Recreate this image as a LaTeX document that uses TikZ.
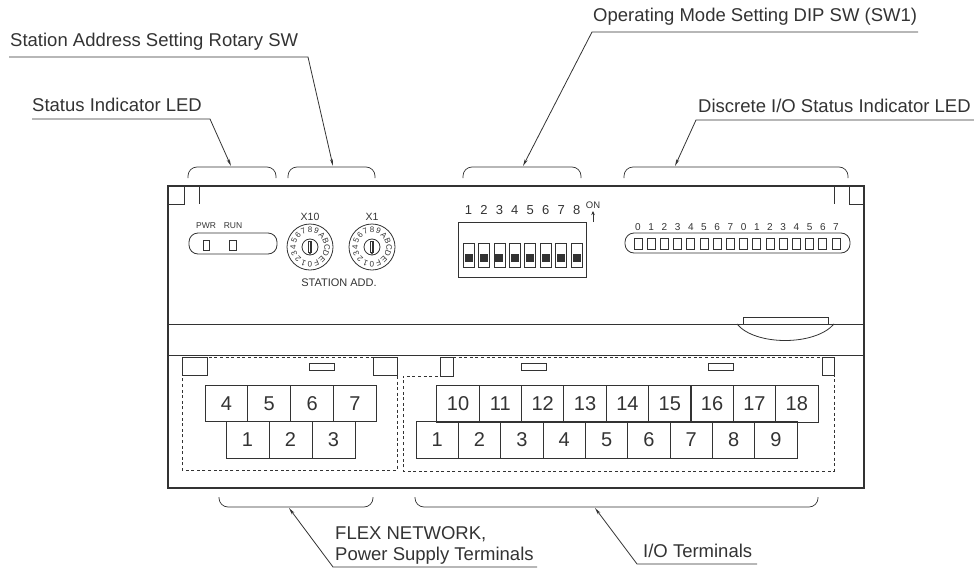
\documentclass[tikz,border=0pt]{standalone}
\usepackage{fontspec}
\setmainfont{Liberation Sans}
\usetikzlibrary{arrows.meta}
\definecolor{ink}{gray}{0.2}
\tikzset{
  cell/.style={draw=ink,line width=0.9pt,minimum width=42.4pt,minimum height=36.5pt,inner sep=0pt,outer sep=0pt,font=\fontsize{20}{20}\selectfont,text=ink},
  lamp/.style={draw=ink,line width=0.8pt},
  callout/.style={anchor=west,inner sep=0pt,font=\fontsize{18.5}{18.5}\selectfont,text=ink},
  leader/.style={draw=ink,line width=0.8pt,-{Stealth[length=7pt,width=3pt]}},
  bracket/.style={draw=ink,line width=0.7pt,rounded corners=9pt},
  tiny/.style={inner sep=0pt,text=ink,font=\fontsize{8.5}{8.5}\selectfont},
  small/.style={inner sep=0pt,text=ink,font=\fontsize{10}{10}\selectfont},
  slit/.style={draw=ink,line width=0.8pt,dash pattern=on 3pt off 2.6pt}
}
\begin{document}
\begin{tikzpicture}[x=1pt,y=-1pt]
\useasboundingbox(0,0)rectangle(974,570);

% housing
\draw[draw=ink,line width=1.3pt](168,186)rectangle(864,488);
\draw[lamp](168,324)--(864,324);
\draw[lamp](168,355)--(864,355);
\draw[lamp](168,204)--(184,204)--(184,186);
\draw[lamp](199,186)--(199,204);
\draw[lamp](834,186)--(834,204);
\draw[lamp](849,186)--(849,204)--(864,204);

% cover tab
\draw[lamp](743,324)--(743,317)--(828,317)--(828,324);
\draw[lamp](737,324)..controls(755,346)and(815,346)..(834,324);

% status leds
\draw[lamp,rounded corners=9pt](189,233)rectangle(277,254);
\draw[lamp](203,240)rectangle(209,250);
\draw[lamp](229,240)rectangle(236,250);
\node[tiny](pwr)at(206,226){PWR};
\node[tiny](run)at(233,226){RUN};

% rotary switches
\foreach \cx/\nm/\lb in {310/ten/X10,372/one/X1}{
  \node[small,font=\fontsize{10.5}{10.5}\selectfont](lab\nm)at(\cx,217){\lb};
  \draw[lamp](\cx,247)circle(23);
  \draw[lamp](\cx,247)circle(8);
  \draw[lamp](\cx-1.6,241)rectangle(\cx+1.6,252);
  \draw[draw=ink,line width=0.7pt,-{Stealth[length=3pt,width=2.5pt]}](\cx,241)--(\cx,255);
  \foreach \t [count=\i from 0,evaluate=\i as \a using 270-22.5*\i] in {0,1,2,3,4,5,6,7,8,9,A,B,C,D,E,F}
    \node[inner sep=0pt,text=ink,font=\fontsize{8}{8}\selectfont,rotate=\a-90](d\nm\i)at({\cx+17*cos(\a)},{247-17*sin(\a)}){\t};
}
\node[small,font=\fontsize{11}{11}\selectfont](addr)at(339,283){STATION ADD.};

% dip switch
\draw[lamp](458,222)rectangle(586,277);
\foreach \k in {1,...,8}{
  \pgfmathsetmacro{\sx}{468.5+15.45*(\k-1)}
  \node[small,font=\fontsize{13}{13}\selectfont,anchor=base](sw\k)at(\sx,214){\k};
  \draw[lamp](\sx-5.5,243)rectangle(\sx+5.5,267);
  \fill[ink](\sx-4,253.5)rectangle(\sx+4,262);
}
\node[small,font=\fontsize{9.5}{9.5}\selectfont](on)at(593,205){ON};
\coordinate(onb)at(593,222);
\draw[draw=ink,line width=0.8pt,-{Stealth[length=4pt,width=3.5pt]}](onb)--(593,211);

% discrete leds
\draw[lamp,rounded corners=9pt](625,233)rectangle(850,253);
\foreach \k/\t in {0/0,1/1,2/2,3/3,4/4,5/5,6/6,7/7,8/0,9/1,10/2,11/3,12/4,13/5,14/6,15/7}{
  \pgfmathsetmacro{\sx}{638+13.2*\k}
  \draw[lamp](\sx-4,238)rectangle(\sx+4,249);
  \node[small](io\k)at(\sx,227){\t};
}

% terminal zones
\draw[slit](182,375)--(182,357)--(397,357)--(397,470)--(182,470)--cycle;
\draw[slit](453,357)--(834,357)--(834,471)--(403,471)--(403,376)--(440,376);
\draw[lamp,fill=white](182,357)rectangle(207,375);
\draw[lamp,fill=white](373,357)rectangle(397,375);
\draw[lamp,fill=white](440,357)rectangle(453,376);
\draw[lamp,fill=white](822,357)rectangle(834,375);
\draw[lamp](309,363)rectangle(334,370);
\draw[lamp](521,363)rectangle(546,370);
\draw[lamp](708,363)rectangle(733,370);

% terminals
\foreach \k/\t in {0/4,1/5,2/6,3/7}
  \node[cell,minimum width=42.8pt](flex\t)at(226.5+42.8*\k,403.5){\t};
\foreach \k/\t in {0/1,1/2,2/3}
  \node[cell,minimum width=43pt](pow\t)at(247.5+43*\k,440){\t};
\foreach \k in {0,...,8}{
  \pgfmathtruncatemacro{\up}{\k+10}
  \pgfmathtruncatemacro{\dn}{\k+1}
  \node[cell](up\up)at(458+42.35*\k,404){\up};
  \node[cell](dn\dn)at(437.2+42.35*\k,440){\dn};
}

% brackets
\draw[bracket](188,178)--(188,167)--(276,167)--(276,178);
\draw[bracket](288,178)--(288,167)--(375,167)--(375,178);
\draw[bracket](463,178)--(463,167)--(581,167)--(581,178);
\draw[bracket](624,178)--(624,167)--(848,167)--(848,178);
\draw[bracket](219,497)--(219,507)--(373,507)--(373,497);
\draw[bracket](415,497)--(415,507)--(818,507)--(818,497);

% callouts
\node[callout](station)at(10,42){Station Address Setting Rotary SW};
\coordinate(stationa)at(9,57);
\coordinate(stationb)at(308,57);
\coordinate(stationc)at(333,166);
\draw[leader](stationa)--(stationb)--(stationc);

\node[callout](status)at(32,105){Status Indicator LED};
\coordinate(statusa)at(32,119);
\coordinate(statusb)at(210,119);
\coordinate(statusc)at(231,166);
\draw[leader](statusa)--(statusb)--(statusc);

\node[callout](mode)at(593,17){Operating Mode Setting DIP SW (SW1)};
\coordinate(modea)at(918,32);
\coordinate(modeb)at(592,32);
\coordinate(modec)at(523,166);
\draw[leader](modea)--(modeb)--(modec);

\node[callout](discrete)at(698,106){Discrete I/O Status Indicator LED};
\coordinate(discretea)at(974,120);
\coordinate(discreteb)at(696,120);
\coordinate(discretec)at(675,166);
\draw[leader](discretea)--(discreteb)--(discretec);

\node[callout](flex)at(335,534){FLEX NETWORK,};
\node[callout](power)at(335,556){Power Supply Terminals};
\coordinate(flexa)at(537,567);
\coordinate(flexb)at(333,567);
\coordinate(flexc)at(289,508);
\draw[leader](flexa)--(flexb)--(flexc);

\node[callout](ioterm)at(643,551){I/O Terminals};
\coordinate(ioa)at(757,564);
\coordinate(iob)at(637,564);
\coordinate(ioc)at(595,508);
\draw[leader](ioa)--(iob)--(ioc);

\end{tikzpicture}
\end{document}
